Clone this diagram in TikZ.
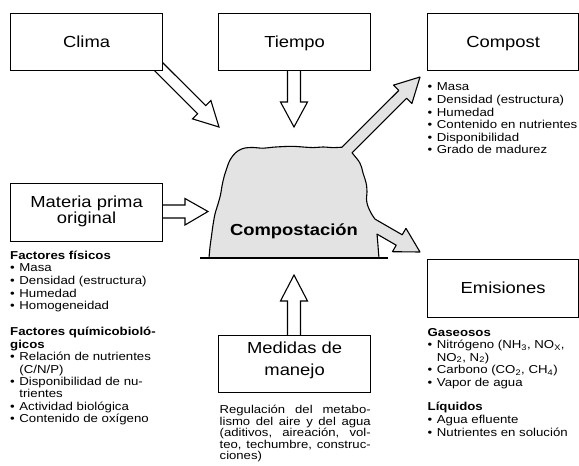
\documentclass[tikz,border=0pt]{standalone}
\usepackage{fontspec}
\setmainfont{Liberation Sans}[FakeStretch=1.15]
\usetikzlibrary{calc}
\definecolor{pilegray}{gray}{0.89}
\newcommand\blt{\makebox[9.2pt][l]{\textbullet}}
\newcommand\lstind{\hspace*{9.2pt}}
\newcommand\lstline[3]{\node[lstst] (#1) at (#2) {#3};}
\newcommand\regline[3]{\node[regst] (#1) at (#2) {\hbox to 151pt{#3}};}
\begin{document}
\begin{tikzpicture}[x=1pt,y=-1pt,
  boxst/.style={draw, fill=white, line width=1.2pt, inner sep=0pt, anchor=north west},
  inarrow/.style={draw, fill=white, line width=1.1pt},
  lbl/.style={font=\fontsize{16}{19}\selectfont, inner sep=0pt, anchor=base},
  lstst/.style={anchor=base west, inner sep=0pt, font=\fontsize{11.5}{13}\selectfont},
  regst/.style={anchor=base west, inner sep=0pt, font=\fontsize{11.4}{12}\selectfont},
]
\useasboundingbox (0,0) rectangle (579,466);

% tips of the arrows
\coordinate (tclima) at (219,127);
\coordinate (ttiempo) at (294,127);
\coordinate (tmateria) at (208,211.5);
\coordinate (tmedidas) at (294,275);
\coordinate (tcompost) at (420,77);
\coordinate (temis) at (420,252);

% input arrows (white)
\filldraw[inarrow] (141.08,57.14) -- (197.65,113.71) -- (192.49,118.87) -- (tclima) -- (210.87,100.49) -- (205.71,105.65) -- (149.1,49.1) -- cycle;
\filldraw[inarrow] (287.5,60) -- (287.5,102) -- (280.5,102) -- (ttiempo) -- (307.5,102) -- (300.5,102) -- (300.5,60) -- cycle;
\filldraw[inarrow] (150,205) -- (185,205) -- (185,198.5) -- (tmateria) -- (185,225) -- (185,218) -- (150,218) -- cycle;
\filldraw[inarrow] (287.5,345) -- (287.5,301) -- (280.5,301) -- (tmedidas) -- (307.5,301) -- (300.5,301) -- (300.5,345) -- cycle;

% boxes
\node[boxst, minimum width=152pt, minimum height=57pt] (clima) at (10,13) {};
\node[boxst, minimum width=152pt, minimum height=57pt] (tiempo) at (218,13) {};
\node[boxst, minimum width=151pt, minimum height=57pt] (compost) at (427,13) {};
\node[boxst, minimum width=152pt, minimum height=58pt] (materia) at (10,183) {};
\node[boxst, minimum width=151pt, minimum height=58pt] (emis) at (427,259) {};
\node[boxst, minimum width=152pt, minimum height=57pt] (medidas) at (218,335) {};

\node[lbl] (climat) at ($(clima.center)+(0,5.2)$) {Clima};
\node[lbl] (tiempot) at ($(tiempo.center)+(0,5.2)$) {Tiempo};
\node[lbl] (compostt) at ($(compost.center)+(0,5.2)$) {Compost};
\node[lbl] (emist) at ($(emis.center)+(0,5.3)$) {Emisiones};
\node[lbl] (materiat1) at ($(materia.center)+(0,-5.3)$) {Materia prima};
\node[lbl] (materiat2) at ($(materia.center)+(0,11.3)$) {original};
\node[lbl] (medidast1) at ($(medidas.center)+(0,-10.2)$) {Medidas de};
\node[lbl] (medidast2) at ($(medidas.center)+(0,11.5)$) {manejo};

% pile with output arrows
\filldraw[fill=pilegray, draw=black, line width=1.1pt, line join=round]
  plot[smooth, tension=0.55] coordinates {(209,258) (210,247) (211.5,236) (213,225) (215,214) (218,204) (220.5,195) (222,186) (224,177) (226.5,169) (229.5,161) (233.5,155) (238.5,150.5) (245,148) (253,147.5) (263,148.2) (273,147.2) (283,146.6) (293,146.3) (303,147) (313,147.6) (323,147) (333,147.6) (342,147.2)}
  -- (398.79,90.43) -- (393.49,85.13) -- (tcompost) -- (411.87,103.51) -- (406.57,98.21) -- (352,152.8)
  -- plot[smooth, tension=0.55] coordinates {(352,152.8) (355.5,157) (359,161.5) (361.5,167) (363,173) (365,179) (366.5,185) (367,192) (366.5,199) (367.5,205) (370,211) (372.5,215.5) (375,219.1)}
  -- (402.22,234.8) -- (405.97,228.31) -- (temis) -- (392.47,251.69) -- (396.22,245.2) -- (377,234.1)
  -- plot[smooth] coordinates {(377,234.1) (377.8,243) (378.4,251) (379,258)}
  -- cycle;
\coordinate (bl1) at (200,258);
\coordinate (bl2) at (388,258);
\draw[line width=1.5pt] (bl1) -- (bl2);
\node[font=\bfseries\fontsize{16}{19}\selectfont, anchor=base, inner sep=0pt] (compt) at (294,235) {Compostación};

% Compost list
\lstline{c1}{427.5,90.7}{\blt Masa}
\lstline{c2}{427.5,103.35}{\blt Densidad (estructura)}
\lstline{c3}{427.5,116}{\blt Humedad}
\lstline{c4}{427.5,128.65}{\blt Contenido en nutrientes}
\lstline{c5}{427.5,141.3}{\blt Disponibilidad}
\lstline{c6}{427.5,153.95}{\blt Grado de madurez}

% left lists
\lstline{f0}{10,259}{\textbf{Factores físicos}}
\lstline{f1}{10,271.7}{\blt Masa}
\lstline{f2}{10,284.4}{\blt Densidad (estructura)}
\lstline{f3}{10,297.1}{\blt Humedad}
\lstline{f4}{10,309.8}{\blt Homogeneidad}

\lstline{q0}{10,335.7}{\textbf{Factores químicobioló-}}
\lstline{q1}{10,348.1}{\textbf{gicos}}
\lstline{q2}{10,360.6}{\blt Relación de nutrientes}
\lstline{q3}{10,373}{\lstind(C/N/P)}
\lstline{q4}{10,385.4}{\blt Disponibilidad de nu-}
\lstline{q5}{10,397.9}{\lstind trientes}
\lstline{q6}{10,410.3}{\blt Actividad biológica}
\lstline{q7}{10,422.7}{\blt Contenido de oxígeno}

% Emisiones lists
\lstline{g0}{427.5,336}{\textbf{Gaseosos}}
\lstline{g1}{427.5,348.5}{\blt Nitrógeno (NH\textsubscript{3}, NO\textsubscript{X},}
\lstline{g2}{427.5,361}{\lstind NO\textsubscript{2}, N\textsubscript{2})}
\lstline{g3}{427.5,373.5}{\blt Carbono (CO\textsubscript{2}, CH\textsubscript{4})}
\lstline{g4}{427.5,386}{\blt Vapor de agua}

\lstline{l0}{427.5,410.7}{\textbf{Líquidos}}
\lstline{l1}{427.5,423.3}{\blt Agua efluente}
\lstline{l2}{427.5,436}{\blt Nutrientes en solución}

% text under Medidas de manejo
\regline{r1}{219.5,413.5}{Regulación\hfill del\hfill metabo-}
\regline{r2}{219.5,425}{lismo\hfill del\hfill aire\hfill y\hfill del\hfill agua}
\regline{r3}{219.5,436.5}{(aditivos,\hfill aireación,\hfill vol-}
\regline{r4}{219.5,448}{teo,\hfill techumbre,\hfill construc-}
\regline{r5}{219.5,459.5}{ciones)\hfill}
\end{tikzpicture}
\end{document}
